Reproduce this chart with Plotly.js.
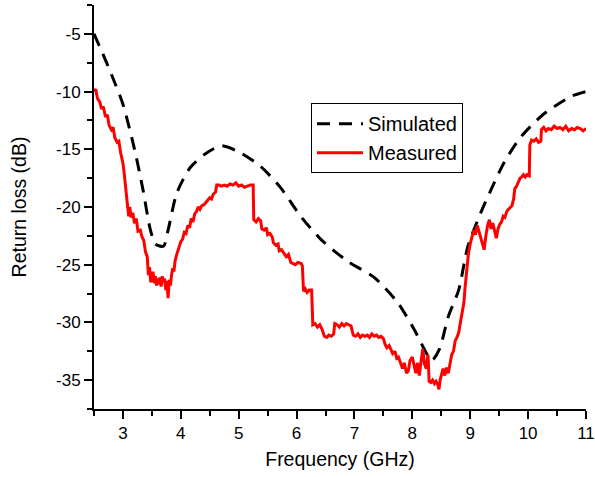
<!DOCTYPE html>
<html>
<head>
<meta charset="utf-8">
<script src="https://cdn.plot.ly/plotly-3.0.1.min.js"></script>
<style>html,body{margin:0;padding:0;background:#fff;}#chart{width:595px;height:477px;}</style>
</head>
<body>
<div id="chart"></div>
<script>
const simFreq = [2.5,2.65,2.8,3.0,3.2,3.35,3.47,3.56,3.7,3.78,3.93,4.16,4.42,4.7,5.03,5.38,5.72,6.07,6.42,6.88,7.34,7.75,8.03,8.27,8.34,8.47,8.62,8.8,8.96,9.19,9.36,9.59,9.88,10.28,10.75,11.0];
const simDb = [-5.0,-6.7,-8.5,-11.1,-15.0,-18.6,-21.9,-23.2,-23.4,-22.0,-18.8,-16.6,-15.4,-14.7,-15.3,-16.5,-18.3,-20.8,-22.8,-24.7,-26.1,-28.3,-30.6,-32.9,-33.3,-32.3,-29.5,-27.2,-23.4,-20.4,-18.5,-16.1,-13.9,-11.9,-10.4,-10.0];

const measFreq = [2.50,2.53,2.56,2.60,2.63,2.66,2.70,2.73,2.76,2.80,2.83,2.86,2.90,2.93,2.96,3.00,3.02,3.04,3.06,3.08,3.10,3.12,3.14,3.17,3.20,3.23,3.26,3.30,3.33,3.36,3.39,3.42,3.44,3.46,3.48,3.50,3.52,3.54,3.56,3.58,3.60,3.62,3.64,3.66,3.68,3.70,3.72,3.74,3.76,3.78,3.80,3.82,3.84,3.86,3.88,3.90,3.93,3.96,4.00,4.03,4.06,4.09,4.12,4.15,4.18,4.21,4.24,4.27,4.30,4.33,4.36,4.40,4.43,4.46,4.50,4.53,4.56,4.60,4.62,4.66,4.70,4.75,4.80,4.85,4.90,4.95,5.00,5.05,5.10,5.15,5.20,5.25,5.26,5.30,5.34,5.38,5.40,5.44,5.48,5.50,5.54,5.58,5.60,5.64,5.68,5.70,5.74,5.78,5.82,5.86,5.90,5.94,5.98,6.02,6.08,6.10,6.12,6.15,6.18,6.22,6.26,6.28,6.32,6.36,6.40,6.44,6.48,6.52,6.56,6.60,6.64,6.66,6.70,6.74,6.78,6.82,6.86,6.90,6.94,6.98,7.02,7.06,7.10,7.14,7.18,7.22,7.26,7.30,7.34,7.38,7.42,7.46,7.50,7.53,7.56,7.60,7.63,7.66,7.70,7.73,7.76,7.80,7.83,7.86,7.90,7.93,7.96,8.00,8.03,8.06,8.09,8.12,8.15,8.18,8.21,8.24,8.27,8.29,8.32,8.35,8.38,8.41,8.44,8.46,8.48,8.50,8.53,8.56,8.59,8.62,8.65,8.68,8.71,8.74,8.77,8.80,8.83,8.86,8.89,8.91,8.93,8.95,8.97,9.00,9.03,9.06,9.09,9.12,9.15,9.18,9.21,9.24,9.27,9.30,9.33,9.36,9.39,9.42,9.45,9.48,9.51,9.54,9.57,9.60,9.63,9.66,9.69,9.72,9.75,9.77,9.80,9.83,9.86,9.89,9.92,9.95,9.98,10.02,10.03,10.06,10.10,10.14,10.18,10.22,10.23,10.27,10.31,10.35,10.40,10.45,10.50,10.55,10.60,10.65,10.70,10.75,10.80,10.85,10.90,10.95,11.00];
const measDb = [-10.0,-9.8,-10.6,-10.9,-11.5,-11.3,-12.2,-12.0,-12.9,-13.3,-13.1,-14.0,-14.4,-14.3,-15.3,-16.2,-17.0,-17.8,-18.9,-19.9,-20.8,-20.0,-20.9,-20.5,-21.4,-21.0,-22.1,-22.0,-22.6,-22.9,-23.9,-24.3,-25.9,-25.2,-26.5,-26.3,-25.6,-26.6,-26.0,-26.8,-26.2,-26.7,-26.1,-26.9,-26.0,-26.5,-26.2,-27.2,-26.4,-27.9,-26.3,-26.8,-25.9,-25.3,-25.6,-24.7,-24.1,-23.6,-23.0,-22.8,-22.2,-22.3,-21.6,-21.8,-21.0,-21.3,-20.6,-20.4,-20.0,-20.2,-19.9,-19.8,-19.6,-19.4,-19.2,-19.3,-18.9,-18.7,-18.1,-18.1,-18.2,-18.1,-18.2,-18.0,-18.1,-17.9,-18.2,-18.1,-18.3,-18.2,-18.1,-18.1,-21.1,-21.3,-21.0,-21.2,-21.9,-22.0,-21.8,-22.4,-22.3,-22.6,-23.1,-23.3,-23.2,-23.8,-23.7,-24.0,-24.3,-24.1,-24.8,-24.9,-25.0,-24.8,-24.9,-25.1,-27.3,-27.1,-27.4,-27.2,-27.2,-30.2,-30.1,-30.4,-30.2,-30.6,-31.2,-31.3,-31.1,-31.2,-31.0,-30.1,-30.2,-30.4,-30.1,-30.3,-30.1,-30.2,-30.3,-31.1,-31.2,-31.0,-31.3,-31.1,-31.2,-31.1,-31.3,-31.0,-31.2,-31.1,-31.3,-31.2,-31.4,-31.9,-32.2,-32.0,-32.4,-32.7,-32.5,-33.1,-33.0,-33.6,-34.0,-33.5,-34.4,-34.2,-33.3,-33.0,-33.8,-34.4,-33.5,-34.6,-33.4,-32.3,-33.6,-34.0,-32.8,-35.1,-35.2,-35.0,-35.3,-35.1,-35.4,-35.8,-35.0,-34.5,-34.0,-34.6,-33.9,-34.4,-33.5,-32.8,-32.5,-31.6,-31.3,-30.9,-30.0,-29.2,-28.3,-27.0,-26.0,-25.1,-24.0,-23.2,-22.6,-22.0,-22.4,-21.6,-22.1,-22.6,-23.3,-23.7,-22.5,-21.6,-21.1,-21.9,-21.4,-22.2,-22.7,-21.9,-21.5,-21.3,-20.8,-20.9,-20.4,-20.2,-20.0,-19.9,-19.3,-18.4,-18.2,-17.9,-17.5,-17.4,-17.2,-17.4,-17.2,-17.3,-14.6,-14.2,-14.3,-14.1,-14.4,-14.3,-13.3,-13.1,-13.4,-13.2,-13.3,-13.0,-13.2,-13.1,-13.3,-13.0,-13.4,-13.2,-13.3,-13.1,-13.2,-13.4,-13.2];

const seriesNames = ['Simulated','Measured'];
const xTitle = 'Frequency (GHz)';
const yTitle = 'Return loss (dB)';
const xTickVals = [3,4,5,6,7,8,9,10,11];
const xTickText = ['3','4','5','6','7','8','9','10','11'];
const yTickVals = [-35,-30,-25,-20,-15,-10,-5];
const yTickText = ['-35','-30','-25','-20','-15','-10','-5'];

const font = 'Arial, "Liberation Sans", sans-serif';

const traces = [
  {x: simFreq, y: simDb, name: seriesNames[0], type: 'scatter', mode: 'lines',
   line: {color: '#000000', width: 3, dash: '13px,9px', shape: 'spline', smoothing: 0.7}},
  {x: measFreq, y: measDb, name: seriesNames[1], type: 'scatter', mode: 'lines',
   line: {color: '#ff0000', width: 3}}
];

const axisCommon = {
  showgrid: false, zeroline: false, showline: true, linecolor: '#000', linewidth: 2,
  ticks: 'outside', ticklen: 8, tickwidth: 2, tickcolor: '#000',
  tickfont: {family: font, size: 17, color: '#000'},
  mirror: false, tickmode: 'array'
};

const layout = {
  width: 595, height: 477,
  margin: {l: 94, r: 9, t: 5, b: 68},
  paper_bgcolor: '#fff', plot_bgcolor: '#fff',
  showlegend: true,
  legend: {x: 0.441, y: 0.757, xanchor: 'left', yanchor: 'top',
           bordercolor: '#000', borderwidth: 1, bgcolor: '#fff',
           font: {family: font, size: 20, color: '#000'},
           tracegroupgap: 0, itemwidth: 46},
  xaxis: Object.assign({}, axisCommon, {
    range: [2.5, 11], tickvals: xTickVals, ticktext: xTickText,
    minor: {tickmode: 'linear', tick0: 0, dtick: 0.5, ticks: 'outside', ticklen: 5, tickwidth: 2, tickcolor: '#000'},
    title: {text: xTitle, font: {family: font, size: 19.5, color: '#000'}, standoff: 10}
  }),
  yaxis: Object.assign({}, axisCommon, {
    range: [-37.5, -2.5], tickvals: yTickVals, ticktext: yTickText,
    minor: {tickmode: 'linear', tick0: 0, dtick: 2.5, ticks: 'outside', ticklen: 5, tickwidth: 2, tickcolor: '#000'},
    title: {text: yTitle, font: {family: font, size: 19.5, color: '#000'}, standoff: 24}
  })
};

Plotly.newPlot('chart', traces, layout, {displayModeBar: false, staticPlot: true});
</script>
</body>
</html>
